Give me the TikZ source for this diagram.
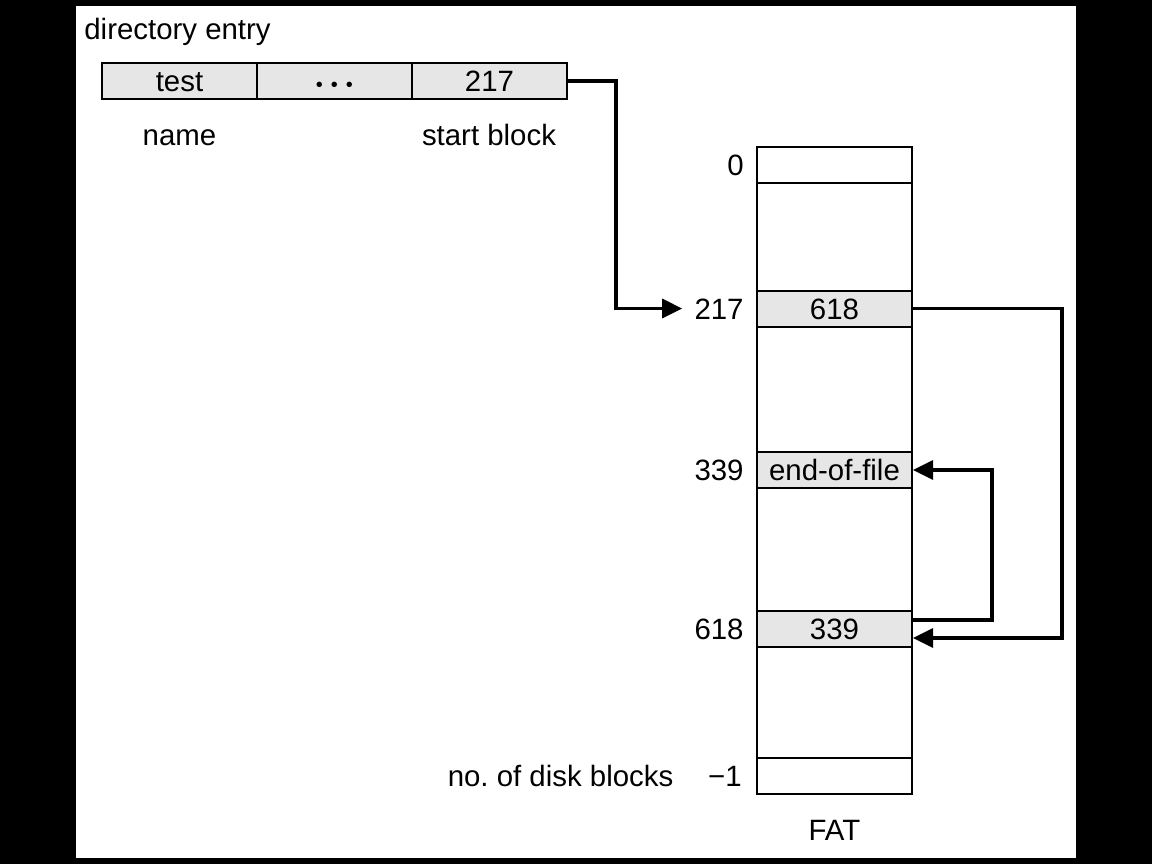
\documentclass[tikz,border=0pt]{standalone}
\usepackage{fontspec}
\setmainfont{Liberation Sans}
\usepackage{xcolor}
\usepackage{tikz}
\usetikzlibrary{arrows.meta, positioning, calc}
\definecolor{cellgray}{RGB}{230, 230, 230}
\frenchspacing

\begin{document}
\begin{tikzpicture}[
    x=0.5pt, y=-0.5pt,
    font=\fontsize{14.7}{17}\selectfont,
    txt/.style={text height=12.5pt, text depth=2pt},
    cell/.style={rectangle, txt, draw=black, line width=1pt, minimum width=77.5pt, minimum height=18pt, inner sep=0pt},
    entry/.style={cell, fill=cellgray},
    slot/.style={cell, fill=white},
    used/.style={cell, fill=cellgray},
    num/.style={txt, inner sep=2pt},
    link/.style={line width=1.6pt, -{Triangle[length=10pt, width=9.5pt]}}
]
% Page
\fill[black] (0,0) rectangle (1152,864);
\fill[white] (76,6) rectangle (1076,858);

% Directory entry
\node[txt, anchor=west, inner sep=0pt] (dirlabel) at (84,29) {directory entry};
\node[entry] (dname) at (179.5,81) {test};
\node[entry, right=-1pt of dname] (ddots) {{\fontsize{10}{10}\selectfont \textbullet\hspace{4pt}\textbullet\hspace{4pt}\textbullet}};
\node[entry, right=-1pt of ddots] (dstart) {217};
\node[txt] (lname) at (179.5,135) {name};
\node[txt] (lstart) at (489,135) {start block};

% FAT
\node[cell, minimum height=323.5pt] (fat) at (834.5,470.5) {};
\node[slot] (f0) at (834.5,165) {};
\node[used] (f217) at (834.5,308.5) {618};
\node[used] (f339) at (834.5,470) {end-of-file};
\node[used] (f618) at (834.5,629) {339};
\node[slot] (fend) at (834.5,776) {};
\node[txt] (lfat) at (834.5,830) {FAT};

% Block numbers
\node[num, left=4pt of f0] (l0) {0};
\node[num, left=4pt of f217] (l217) {217};
\node[num, left=4pt of f339] (l339) {339};
\node[num, left=4pt of f618] (l618) {618};
\node[num, left=5pt of fend] (lend) {−1};
\node[num, left=13pt of lend] (lblocks) {no. of disk blocks};

% Chain
\draw[link, shorten >=4pt] (dstart.east) -- ++(48,0) |- (l217.west);
\draw[link] (f217.east) -- ++(149,0) |- ($(f618.east)+(0,9)$);
\draw[link] ($(f618.east)+(0,-9)$) -- ++(79,0) |- (f339.east);
\end{tikzpicture}
\end{document}
